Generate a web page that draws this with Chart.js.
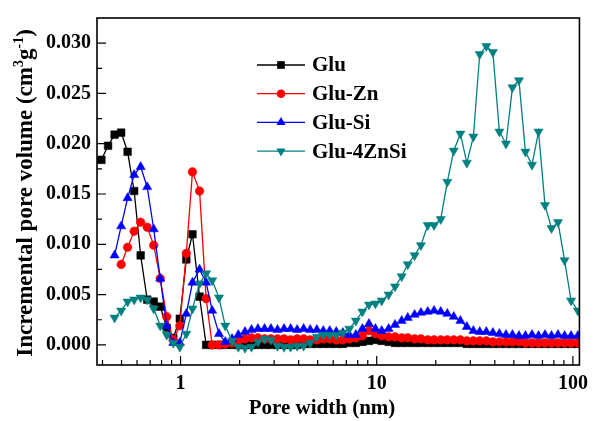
<!DOCTYPE html>
<html>
<head>
<meta charset="utf-8">
<script src="https://cdn.jsdelivr.net/npm/chart.js@4.4.1/dist/chart.umd.min.js"></script>
<style>
  html, body { margin: 0; padding: 0; background: #fff; }
  #chart { display: block; }
</style>
</head>
<body>
<canvas id="chart" width="595" height="421"></canvas>
<script>
// ─── Data ─────────────────────────────────────────────────────────────────────
const poreWidth = [
  0.395, 0.427, 0.461, 0.498, 0.537, 0.580, 0.626, 0.676, 0.730, 0.788,
  0.850, 0.918, 0.991, 1.07, 1.15, 1.25, 1.35, 1.45, 1.57, 1.69,
  1.83, 1.97, 2.13, 2.30, 2.48, 2.68, 2.89, 3.12, 3.37, 3.64,
  3.93, 4.24, 4.58, 4.95, 5.34, 5.76, 6.22, 6.72, 7.25, 7.83,
  8.45, 9.13, 9.85, 10.6, 11.5, 12.4, 13.4, 14.4, 15.6, 16.8,
  18.2, 19.6, 21.2, 22.9, 24.7, 26.7, 28.8, 31.1, 33.5, 36.2,
  39.1, 42.2, 45.6, 49.2, 53.1, 57.3, 61.9, 66.8, 72.1, 77.8,
  84.0, 90.7, 97.9, 106
];

const glu = [
  0.0184, 0.0198, 0.0209, 0.0211, 0.0192, 0.0153, 0.0089, 0.0045, 0.0043, 0.0038,
  0.0017, 0.0007, 0.0026, 0.0085, 0.0110, 0.0048, 0.0000, 0.0000, 0.0000, 0.0000,
  0.0000, 0.0000, 0.0000, 0.0000, 0.0000, 0.0000, 0.0000, 0.0000, 0.0000, 0.0000,
  0.0000, 0.0001, 0.0001, 0.0001, 0.0001, 0.0001, 0.0001, 0.0001, 0.0002, 0.0002,
  0.0003, 0.0004, 0.0005, 0.0004, 0.0003, 0.0002, 0.0002, 0.0002, 0.0002, 0.0002,
  0.0002, 0.0002, 0.0002, 0.0002, 0.0002, 0.0002, 0.0001, 0.0001, 0.0001, 0.0001,
  0.0001, 0.0001, 0.0001, 0.0001, 0.0001, 0.0001, 0.0001, 0.0001, 0.0001, 0.0001,
  0.0001, 0.0001, 0.0001, 0.0001
];

const gluZn = [
  null, null, null, 0.0080, 0.0097, 0.0113, 0.0122, 0.0117, 0.0099, 0.0066,
  0.0028, 0.0005, 0.0019, 0.0091, 0.0172, 0.0153, 0.0046, 0.0000, 0.0000, 0.0001,
  0.0002, 0.0004, 0.0006, 0.0007, 0.0007, 0.0006, 0.0006, 0.0006, 0.0006, 0.0005,
  0.0006, 0.0006, 0.0005, 0.0005, 0.0006, 0.0006, 0.0005, 0.0005, 0.0006, 0.0007,
  0.0009, 0.0014, 0.0011, 0.0009, 0.0008, 0.0008, 0.0007, 0.0007, 0.0006, 0.0006,
  0.0005, 0.0005, 0.0005, 0.0005, 0.0005, 0.0005, 0.0004, 0.0004, 0.0004, 0.0004,
  0.0003, 0.0003, 0.0003, 0.0003, 0.0003, 0.0002, 0.0002, 0.0002, 0.0002, 0.0002,
  0.0002, 0.0002, 0.0002, 0.0002
];

const gluSi = [
  null, null, 0.0089, 0.0118, 0.0146, 0.0169, 0.0177, 0.0157, 0.0115, 0.0066,
  0.0019, 0.0002, 0.0002, 0.0031, 0.0062, 0.0075, 0.0062, 0.0034, 0.0011, 0.0003,
  0.0006, 0.0010, 0.0013, 0.0015, 0.0016, 0.0016, 0.0016, 0.0015, 0.0016, 0.0016,
  0.0015, 0.0016, 0.0015, 0.0015, 0.0014, 0.0014, 0.0013, 0.0012, 0.0010, 0.0010,
  0.0016, 0.0021, 0.0016, 0.0014, 0.0016, 0.0020, 0.0024, 0.0027, 0.0030, 0.0032,
  0.0033, 0.0034, 0.0033, 0.0031, 0.0028, 0.0024, 0.0018, 0.0014, 0.0013, 0.0013,
  0.0012, 0.0011, 0.0010, 0.0010, 0.0009, 0.0009, 0.0010, 0.0009, 0.0010, 0.0009,
  0.0010, 0.0009, 0.0009, 0.0009
];

const glu4ZnSi = [
  null, null, 0.0027, 0.0034, 0.0043, 0.0045, 0.0047, 0.0045, 0.0036, 0.0019,
  0.0010, 0.0002, -0.0002, 0.0011, 0.0036, 0.0061, 0.0071, 0.0064, 0.0047, 0.0019,
  0.0004, -0.0002, -0.0003, -0.0002, 0.0003, 0.0006, 0.0005, -0.0001, -0.0002, -0.0002,
  -0.0001, -0.0001, 0.0002, 0.0008, 0.0010, 0.0010, 0.0010, 0.0012, 0.0016, 0.0024,
  0.0033, 0.0040, 0.0041, 0.0044, 0.0050, 0.0058, 0.0068, 0.0080, 0.0089, 0.0099,
  0.0119, 0.0119, 0.0125, 0.0162, 0.0193, 0.0210, 0.0181, 0.0207, 0.0289, 0.0297,
  0.0291, 0.0212, 0.0200, 0.0256, 0.0263, 0.0192, 0.0179, 0.0212, 0.0139, 0.0116,
  0.0122, 0.0084, 0.0044, 0.0034
];

// axis ticks
const xTicks  = [0.4, 0.5, 0.6, 0.7, 0.8, 0.9, 1, 2, 3, 4, 5, 6, 7, 8, 9,
                 10, 20, 30, 40, 50, 60, 70, 80, 90, 100];
const xLabels = [1, 10, 100];
const yTicks  = [0, 0.0025, 0.005, 0.0075, 0.01, 0.0125, 0.015, 0.0175,
                 0.02, 0.0225, 0.025, 0.0275, 0.03];
const yLabels = [0, 0.005, 0.01, 0.015, 0.02, 0.025, 0.03];

const seriesNames = ['Glu', 'Glu-Zn', 'Glu-Si', 'Glu-4ZnSi'];

// ─── Styling ──────────────────────────────────────────────────────────────────
const FONT = '"Liberation Serif", "Times New Roman", serif';
const COLORS = ['#000000', '#ff0000', '#0000ff', '#008080'];
const MARKERS = [
  { style: 'rect',     rot: 0,   r: 5.4 },
  { style: 'circle',   rot: 0,   r: 4.3 },
  { style: 'triangle', rot: 0,   r: 5.3 },
  { style: 'triangle', rot: 180, r: 5.3 }
];

const toPoints = (ys) => poreWidth
  .map((x, i) => ({ x, y: ys[i] }))
  .filter(p => p.y !== null);

const makeSet = (i, ys) => ({
  label: seriesNames[i],
  data: toPoints(ys),
  borderColor: COLORS[i],
  backgroundColor: COLORS[i],
  borderWidth: 1.3,
  pointStyle: MARKERS[i].style,
  pointRotation: MARKERS[i].rot,
  pointRadius: MARKERS[i].r,
  pointBorderWidth: 0.5,
  pointBorderColor: COLORS[i],
  pointBackgroundColor: COLORS[i],
  tension: 0,
  order: 4 - i          // later series drawn on top, like the original
});

// ─── Hand-drawn decorations (frame, inward ticks, titles, legend) ────────────
const drawMarker = (ctx, m, x, y) => {
  ctx.beginPath();
  if (m.style === 'rect') {
    const s = m.r * Math.SQRT1_2;
    ctx.rect(x - s, y - s, 2 * s, 2 * s);
  } else if (m.style === 'circle') {
    ctx.arc(x, y, m.r, 0, Math.PI * 2);
  } else {
    const d = m.rot ? -1 : 1;
    ctx.moveTo(x, y - d * m.r);
    ctx.lineTo(x + 0.866 * m.r, y + d * m.r / 2);
    ctx.lineTo(x - 0.866 * m.r, y + d * m.r / 2);
    ctx.closePath();
  }
  ctx.fill();
};

const decorations = {
  id: 'decorations',
  afterDraw(chart) {
    const { ctx, chartArea: a, scales: { x, y } } = chart;
    ctx.save();

    // frame
    ctx.strokeStyle = '#000';
    ctx.lineWidth = 1.6;
    ctx.strokeRect(a.left, a.top, a.right - a.left, a.bottom - a.top);

    // inward ticks
    ctx.lineWidth = 1.2;
    ctx.beginPath();
    xTicks.forEach(v => {
      const px = x.getPixelForValue(v);
      const len = xLabels.includes(v) ? 9 : 5;
      ctx.moveTo(px, a.bottom);
      ctx.lineTo(px, a.bottom - len);
    });
    yTicks.forEach(v => {
      const py = y.getPixelForValue(v);
      const len = yLabels.some(l => Math.abs(l - v) < 1e-9) ? 9 : 5;
      ctx.moveTo(a.left, py);
      ctx.lineTo(a.left + len, py);
    });
    ctx.stroke();

    ctx.fillStyle = '#000';

    // x title
    ctx.font = `bold 21px ${FONT}`;
    ctx.textAlign = 'center';
    ctx.textBaseline = 'middle';
    ctx.fillText('Pore width (nm)', 322, 409);

    // y title with superscripts
    ctx.save();
    ctx.translate(24, 193);
    ctx.rotate(-Math.PI / 2);
    const big = `bold 23px ${FONT}`;
    const small = `bold 14px ${FONT}`;
    const parts = [
      ['Incremental pore volume (cm', big, 0],
      ['3', small, -9],
      ['g', big, 0],
      ['-1', small, -9],
      [')', big, 0]
    ];
    let total = 0;
    parts.forEach(p => { ctx.font = p[1]; total += ctx.measureText(p[0]).width; });
    let cx = -total / 2;
    ctx.textAlign = 'left';
    ctx.textBaseline = 'alphabetic';
    parts.forEach(p => {
      ctx.font = p[1];
      ctx.fillText(p[0], cx, 8 + p[2]);
      cx += ctx.measureText(p[0]).width;
    });
    ctx.restore();

    // legend
    const rows = [65, 93.7, 122.4, 151.1];
    ctx.font = `bold 21px ${FONT}`;
    ctx.textAlign = 'left';
    ctx.textBaseline = 'middle';
    seriesNames.forEach((name, i) => {
      const ly = rows[i];
      ctx.strokeStyle = COLORS[i];
      ctx.fillStyle = COLORS[i];
      ctx.lineWidth = 1.3;
      ctx.beginPath();
      ctx.moveTo(257, ly);
      ctx.lineTo(305, ly);
      ctx.stroke();
      drawMarker(ctx, MARKERS[i], 281, ly);
      ctx.fillStyle = '#000';
      ctx.fillText(name, 312, ly + 1);
    });

    ctx.restore();
  }
};

// ─── Chart ────────────────────────────────────────────────────────────────────
new Chart(document.getElementById('chart'), {
  type: 'line',
  data: {
    datasets: [
      makeSet(0, glu),
      makeSet(1, gluZn),
      makeSet(2, gluSi),
      makeSet(3, glu4ZnSi)
    ]
  },
  options: {
    responsive: false,
    animation: false,
    devicePixelRatio: 1,
    layout: { padding: { top: 15, right: 9, left: 0, bottom: 0 } },
    plugins: {
      legend: { display: false },
      tooltip: { enabled: false }
    },
    scales: {
      x: {
        type: 'logarithmic',
        min: 0.375,
        max: 108,
        grid: { display: false, drawTicks: false },
        border: { display: false },
        afterBuildTicks: s => { s.ticks = xTicks.map(v => ({ value: v })); },
        afterFit: s => { s.height = 56; },
        ticks: {
          autoSkip: false,
          maxRotation: 0,
          padding: 7,
          color: '#000',
          font: { family: FONT, size: 20, weight: 'bold' },
          callback: v => (xLabels.includes(v) ? String(v) : '')
        }
      },
      y: {
        type: 'linear',
        min: -0.002,
        max: 0.0325,
        grid: { display: false, drawTicks: false },
        border: { display: false },
        afterBuildTicks: s => { s.ticks = yTicks.map(v => ({ value: v })); },
        afterFit: s => { s.width = 97; },
        ticks: {
          autoSkip: false,
          padding: 6,
          color: '#000',
          font: { family: FONT, size: 20, weight: 'bold' },
          callback: v => (yLabels.some(l => Math.abs(l - v) < 1e-9) ? v.toFixed(3) : '')
        }
      }
    }
  },
  plugins: [decorations]
});
</script>
</body>
</html>
